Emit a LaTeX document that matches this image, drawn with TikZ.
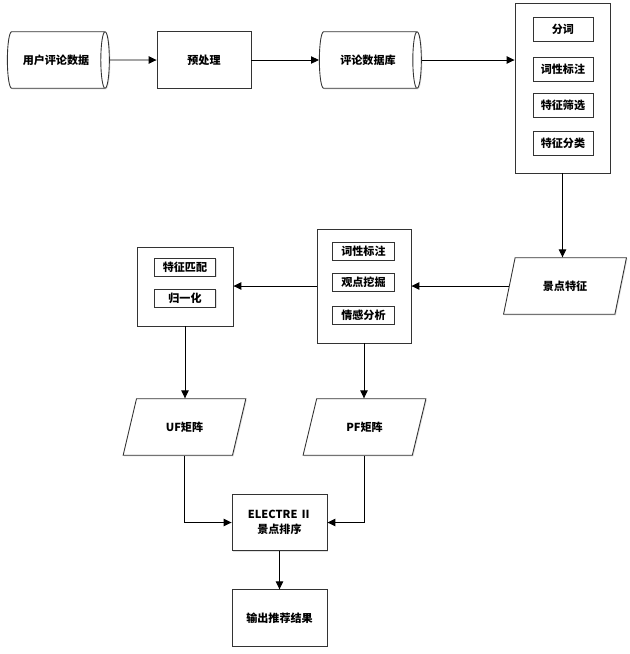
\documentclass[tikz,border=0pt]{standalone}
\usepackage{fontspec}
\setmainfont{Noto Sans CJK SC}
\usepackage{tikz}
\usetikzlibrary{shapes.geometric,arrows.meta,shadows}
\tikzset{
  line/.style={draw=black, line width=0.5pt},
  arr/.style={line, -{Triangle[length=4.5pt,width=4.2pt]}},
  txt/.style={font=\bfseries\fontsize{6.3}{8.5}\selectfont, align=center, inner sep=0pt},
  shade/.style={drop shadow={shadow xshift=0.6pt, shadow yshift=-0.6pt, fill=black!15, opacity=0.8}},
  box/.style={txt, draw=black!80, fill=white, line width=0.5pt, shade,
    minimum width=1.9cm, minimum height=1.13cm},
  frame/.style={draw=black!80, fill=white, line width=0.5pt, shade, inner sep=0pt},
  sub/.style={txt, draw=black!80, fill=white, line width=0.5pt, shade,
    minimum width=1.2cm, minimum height=0.48cm},
  subs/.style={sub, minimum width=1.23cm, minimum height=0.36cm},
  db/.style={txt, shape=cylinder, shape aspect=0.8, draw=black!80, fill=white,
    line width=0.5pt, shade, minimum width=1.13cm, minimum height=2.04cm},
  para/.style={txt, trapezium, trapezium left angle=64, trapezium right angle=116,
    trapezium stretches=true, draw=black!80, fill=white, line width=0.5pt, shade,
    minimum width=2.46cm, minimum height=1.13cm},
}

\begin{document}
\begin{tikzpicture}[x=0.02cm, y=-0.02cm]
  \useasboundingbox (0,0) rectangle (630,654);
  % top row
  \node[db] (raw) at (56,60) {用户评论数据};
  \node[box, minimum width=1.88cm] (pre) at (204,60) {预处理};
  \node[db] (dbase) at (368,60) {评论数据库};
  \node[frame, minimum width=1.9cm, minimum height=3.4cm] (seg) at (562.5,88) {};
  \node[sub] (seg1) at (563,29) {分词};
  \node[sub] (seg2) at (563,69) {词性标注};
  \node[sub] (seg3) at (563,105) {特征筛选};
  \node[sub] (seg4) at (563,143) {特征分类};
  % middle row
  \node[para] (feat) at (565,286) {景点特征};
  \node[frame, minimum width=1.88cm, minimum height=2.28cm] (mine) at (364,286) {};
  \node[subs] (mine1) at (363.5,251) {词性标注};
  \node[subs] (mine2) at (363.5,282) {观点挖掘};
  \node[subs] (mine3) at (363.5,315) {情感分析};
  \node[frame, minimum width=1.92cm, minimum height=1.58cm] (norm) at (185,286.5) {};
  \node[subs] (norm1) at (185,267) {特征匹配};
  \node[subs] (norm2) at (185,298) {归一化};
  % bottom
  \node[para] (uf) at (184.5,427) {UF矩阵};
  \node[para] (pf) at (364.5,427) {PF矩阵};
  \node[box] (rank) at (279.5,522.5) {ELECTRE Ⅱ\\景点排序};
  \node[box] (out) at (279.5,618) {输出推荐结果};

  \draw[arr] (raw.east) -- (pre.west);
  \draw[arr] (pre.east) -- (dbase.west);
  \draw[arr] (dbase.east) -- (dbase.east -| seg.west);
  \draw[arr] (seg.south) -- (seg.south |- feat.north);
  \draw[arr] (feat.west) -- (feat.west -| mine.east);
  \draw[arr] (mine.west) -- (mine.west -| norm.east);
  \draw[arr] (norm.south) -- (norm.south |- uf.north);
  \draw[arr] (mine.south) -- (mine.south |- pf.north);
  \draw[arr] (uf.south) |- (rank.west);
  \draw[arr] (pf.south) |- (rank.east);
  \draw[arr] (rank.south) -- (out.north);
\end{tikzpicture}
\end{document}
